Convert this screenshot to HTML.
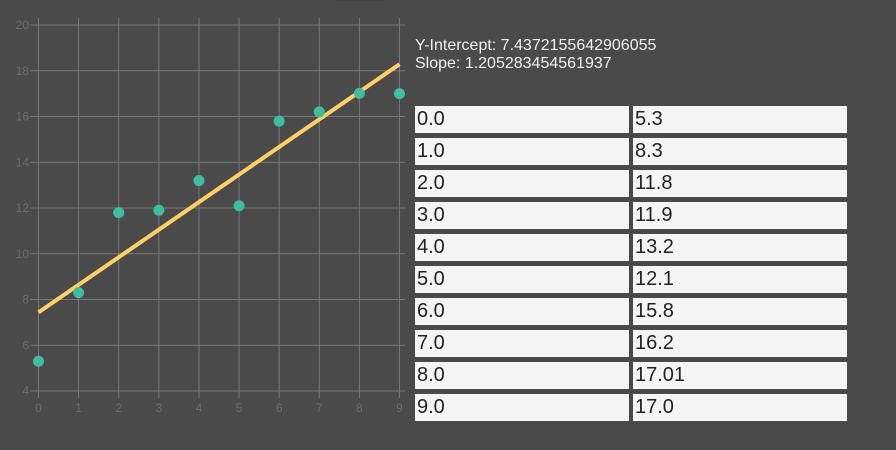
<!DOCTYPE html>
<html><head><meta charset="utf-8"><style>
body{margin:0;width:896px;height:450px;background:#4a4a4a;font-family:"Liberation Sans",sans-serif;overflow:hidden;position:relative}
.info{position:absolute;left:415px;top:37px;color:#f0f0f0;font-size:16px;line-height:18px}
.cell{position:absolute;background:#f5f5f5;color:#222;font-size:20px;height:27px;line-height:27px;padding-left:2px;box-sizing:border-box}
</style></head><body>
<div style="position:absolute;left:335px;top:0;width:50px;height:1px;background:#444"></div>
<svg width="410" height="420" style="position:absolute;left:0;top:0" id="chart"></svg>
<div class="info">
<div>Y-Intercept: 7.4372155642906055</div>
<div>Slope: 1.205283454561937</div>
</div>
<div id="table"></div>
<script>
const xs=[0,1,2,3,4,5,6,7,8,9];
const ys=[5.3,8.3,11.8,11.9,13.2,12.1,15.8,16.2,17.01,17.0];
const xLabels=["0.0","1.0","2.0","3.0","4.0","5.0","6.0","7.0","8.0","9.0"];
const yLabels=["5.3","8.3","11.8","11.9","13.2","12.1","15.8","16.2","17.01","17.0"];
const intercept=7.4372155642906055, slope=1.205283454561937;
const xTicks=[0,1,2,3,4,5,6,7,8,9];
const yTicks=[4,6,8,10,12,14,16,18,20];
const X=v=>38.5+v*(361/9), Y=v=>391-(v-4)*(366/16);
const svg=document.getElementById('chart'), NS='http://www.w3.org/2000/svg';
function mk(t,a,name){const e=document.createElementNS(NS,t);for(const k in a)e.setAttribute(k,a[k]);


svg.appendChild(e);return e;}
yTicks.forEach(v=>{mk('line',{x1:30,x2:405,y1:Y(v),y2:Y(v),stroke:'#777','stroke-width':1},'y-grid-line');
const t=mk('text',{x:29,y:Y(v)+4,'text-anchor':'end','font-size':12,fill:'#6e6e6e'},'y-tick-label');t.textContent=v;});
xTicks.forEach(v=>{mk('line',{x1:X(v),x2:X(v),y1:18,y2:398,stroke:'#777','stroke-width':1},'x-grid-line');
const t=mk('text',{x:X(v),y:412,'text-anchor':'middle','font-size':12,fill:'#6e6e6e'},'x-tick-label');t.textContent=v;});
mk('line',{x1:X(0),y1:Y(intercept),x2:X(9),y2:Y(intercept+slope*9),stroke:'#ffd064','stroke-width':4},'regression-line');
xs.forEach((x,i)=>mk('circle',{cx:X(x),cy:Y(ys[i]),r:5.5,fill:'#3dbf9f'},'data-point'));
const tb=document.getElementById('table');
xLabels.forEach((l,i)=>{[[415,l,'x-value-cell'],[633,yLabels[i],'y-value-cell']].forEach(([x,txt,n])=>{
const d=document.createElement('div');d.className='cell';d.style.left=x+'px';d.style.top=(106+i*32)+'px';d.style.width='214px';d.textContent=txt;


tb.appendChild(d);});});
</script>
</body></html>
